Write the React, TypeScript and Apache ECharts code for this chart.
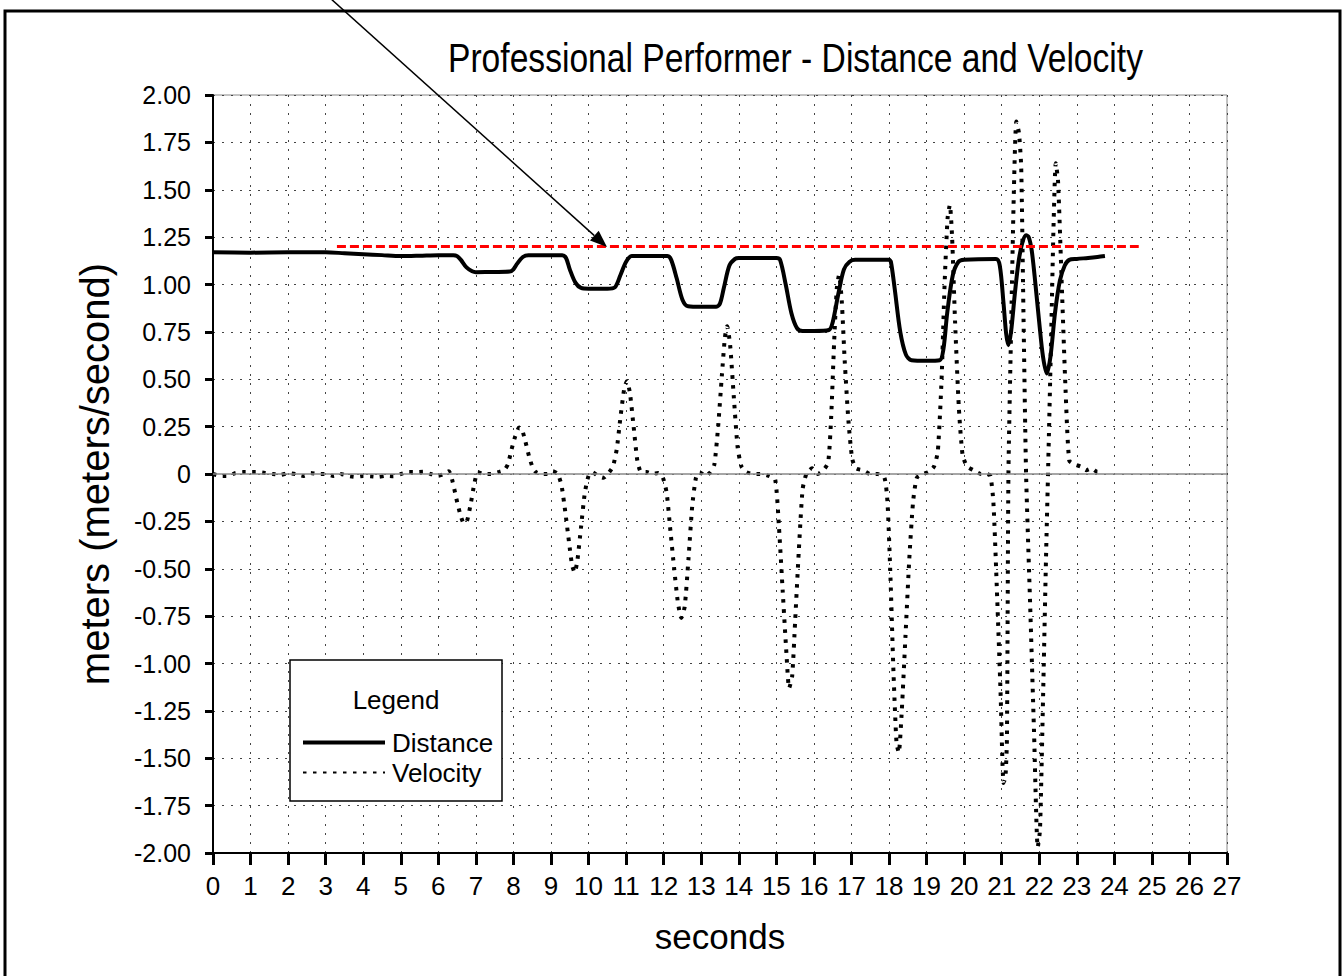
import { useEffect, useRef } from "react";
import * as echarts from "echarts";

const TITLE = "Professional Performer - Distance and Velocity";
const X_NAME = "seconds";
const Y_NAME = "meters (meters/second)";
const LEGEND_TITLE = "Legend";
const SERIES_NAMES = ["Distance", "Velocity"];

const X_MIN = 0;
const X_MAX = 27;
const X_STEP = 1;
const Y_MIN = -2;
const Y_MAX = 2;
const Y_STEP = 0.25;

const REF_LEVEL = 1.2;
const REF_START = 3.3;
const REF_END = 24.65;

const DIST_T = [
  0, 1, 2, 3, 3.5, 4, 4.5, 5, 5.5, 6, 6.4, 6.5, 6.6, 6.75, 6.9, 7.0, 7.5, 7.9,
  8.0, 8.1, 8.25, 8.4, 9.3, 9.4, 9.5, 9.65, 9.8, 10.0, 10.5, 10.7, 10.85, 11.0,
  11.15, 12.1, 12.2, 12.35, 12.5, 12.65, 13.0, 13.4, 13.5, 13.6, 13.75, 13.9,
  14.0, 15.0, 15.1, 15.25, 15.4, 15.55, 15.7, 16.0, 16.4, 16.5, 16.65, 16.8,
  16.95, 17.1, 18.0, 18.05, 18.15, 18.3, 18.45, 18.6, 19.0, 19.35, 19.45, 19.55,
  19.7, 19.85, 20.0, 20.85, 20.95, 21.05, 21.12, 21.18, 21.25, 21.35, 21.45,
  21.55, 21.65, 21.72, 21.8, 21.9, 22.0, 22.1, 22.2, 22.3, 22.42, 22.55, 22.68,
  22.8, 23.0, 23.3, 23.55, 23.75,
];
const DIST_V = [
  1.17, 1.168, 1.17, 1.17, 1.165, 1.16, 1.155, 1.15, 1.152, 1.155, 1.155, 1.15,
  1.13, 1.09, 1.07, 1.065, 1.066, 1.068, 1.08, 1.11, 1.145, 1.155, 1.155, 1.14,
  1.08, 1.01, 0.982, 0.978, 0.978, 0.985, 1.05, 1.12, 1.15, 1.15, 1.13, 1.03,
  0.92, 0.885, 0.882, 0.882, 0.9, 0.98, 1.1, 1.135, 1.14, 1.14, 1.13, 1.0, 0.85,
  0.77, 0.755, 0.755, 0.76, 0.8, 0.95, 1.08, 1.12, 1.13, 1.13, 1.12, 0.98, 0.75,
  0.63, 0.6, 0.597, 0.6, 0.66, 0.85, 1.05, 1.12, 1.13, 1.135, 1.1, 0.9, 0.74,
  0.68, 0.75, 0.95, 1.12, 1.22, 1.26, 1.25, 1.18, 1.0, 0.8, 0.62, 0.53, 0.62,
  0.85, 1.02, 1.1, 1.13, 1.135, 1.14, 1.145, 1.15,
];

const VEL_T = [
  0, 0.2, 0.4, 0.6, 0.8, 1.0, 1.2, 1.4, 1.6, 1.8, 2.0, 2.2, 2.4, 2.6, 2.8, 3.0,
  3.2, 3.4, 3.6, 3.8, 4.0, 4.2, 4.4, 4.6, 4.8, 5.0, 5.2, 5.4, 5.6, 5.8, 6.0,
  6.15, 6.28, 6.38, 6.48, 6.58, 6.68, 6.76, 6.86, 6.96, 7.05, 7.2, 7.4, 7.6,
  7.75, 7.85, 7.95, 8.05, 8.15, 8.22, 8.32, 8.42, 8.52, 8.6, 8.75, 8.9, 9.05,
  9.18, 9.28, 9.38, 9.48, 9.56, 9.63, 9.7, 9.8, 9.9, 10.0, 10.1, 10.25, 10.4,
  10.55, 10.65, 10.75, 10.85, 10.95, 11.02, 11.1, 11.2, 11.3, 11.4, 11.55,
  11.7, 11.85, 11.98, 12.08, 12.18, 12.28, 12.38, 12.47, 12.56, 12.66, 12.76,
  12.86, 12.96, 13.1, 13.25, 13.35, 13.45, 13.55, 13.63, 13.69, 13.77, 13.87,
  13.97, 14.07, 14.2, 14.4, 14.6, 14.8, 14.97, 15.07, 15.17, 15.27, 15.34,
  15.42, 15.5, 15.6, 15.7, 15.8, 15.95, 16.1, 16.25, 16.38, 16.46, 16.54,
  16.61, 16.67, 16.74, 16.82, 16.92, 17.02, 17.12, 17.3, 17.5, 17.7, 17.88,
  17.96, 18.04, 18.12, 18.2, 18.26, 18.34, 18.44, 18.54, 18.64, 18.74, 18.9,
  19.05, 19.2, 19.3, 19.4, 19.48, 19.56, 19.62, 19.68, 19.76, 19.86, 19.96,
  20.08, 20.25, 20.45, 20.6, 20.7, 20.78, 20.88, 20.97, 21.05, 21.1, 21.14,
  21.18, 21.25, 21.32, 21.39, 21.46, 21.52, 21.58, 21.65, 21.76, 21.86, 21.96,
  22.02, 22.1, 22.18, 22.24, 22.32, 22.38, 22.44, 22.5, 22.6, 22.7, 22.8, 22.95,
  23.1, 23.25, 23.4, 23.55, 23.7,
];
const VEL_V = [
  0, -0.01, -0.01, 0.005, 0.01, 0.01, 0.01, 0.005, 0, -0.005, 0.005, 0, -0.01,
  0.005, 0, 0, -0.01, 0, -0.01, -0.015, -0.01, -0.012, -0.015, -0.01, -0.012, 0,
  0.01, 0.01, 0.012, 0, -0.01, 0, 0.015, -0.04, -0.13, -0.21, -0.26, -0.25,
  -0.16, -0.05, 0.01, 0, 0, 0.01, 0.02, 0.05, 0.13, 0.2, 0.245, 0.24, 0.17, 0.09,
  0.03, 0.01, 0, 0, 0.015, 0, -0.06, -0.2, -0.36, -0.48, -0.52, -0.46, -0.28,
  -0.1, -0.01, 0.01, -0.01, -0.02, 0.01, 0.04, 0.13, 0.3, 0.45, 0.49, 0.43,
  0.25, 0.07, 0.01, 0.01, 0, 0.005, -0.02, -0.1, -0.3, -0.5, -0.68, -0.76, -0.7,
  -0.45, -0.17, -0.02, 0.01, -0.01, 0.01, 0.05, 0.25, 0.52, 0.72, 0.78, 0.68,
  0.4, 0.14, 0.04, 0.01, 0, 0, -0.01, -0.03, -0.28, -0.62, -0.95, -1.13, -1.07,
  -0.78, -0.4, -0.08, 0, 0.03, 0, 0.02, 0.06, 0.3, 0.7, 0.98, 1.05, 0.92, 0.6,
  0.28, 0.08, 0.03, 0.02, 0, 0, -0.02, -0.15, -0.55, -1.05, -1.42, -1.47, -1.25,
  -0.85, -0.45, -0.15, -0.02, 0, 0.01, 0.04, 0.12, 0.5, 1.0, 1.35, 1.42, 1.25,
  0.8, 0.35, 0.1, 0.04, 0.02, 0, 0, -0.01, -0.15, -0.65, -1.15, -1.63, -1.6,
  -1.4, 0, 0.75, 1.45, 1.86, 1.8, 1.62, 0.85, 0, -0.7, -1.35, -1.97, -1.88,
  -1.2, -0.45, 0.05, 0.75, 1.3, 1.64, 1.55, 1.0, 0.45, 0.07, 0.05, 0.04, 0.02,
  0.03, 0.01, 0.02,
];

const FONT = "'Liberation Sans', Arial, Helvetica, sans-serif";

export default function App() {
  const ref = useRef<HTMLDivElement>(null);

  useEffect(() => {
    if (!ref.current) return;
    const chart = echarts.init(ref.current, undefined, { renderer: "svg" });

    const distData = DIST_T.map((t, i) => [t, DIST_V[i]]);
    const velData = VEL_T.map((t, i) => [t, VEL_V[i]]);

    // arrow geometry (annotation, page pixels)
    const ax0 = 330, ay0 = -2, ax1 = 607, ay1 = 247;
    const len = Math.hypot(ax1 - ax0, ay1 - ay0);
    const ux = (ax1 - ax0) / len, uy = (ay1 - ay0) / len;
    const hl = 17, hw = 6.5;
    const bx = ax1 - ux * hl, by = ay1 - uy * hl;

    chart.setOption({
      animation: false,
      backgroundColor: "#ffffff",
      grid: {
        left: 213,
        right: 1344 - 1227,
        top: 95,
        bottom: 976 - 853,
        show: true,
        borderColor: "#888",
        borderWidth: 1,
        backgroundColor: "transparent",
      },
      legend: {
        data: [
          { name: SERIES_NAMES[0], lineStyle: { width: 4 } },
          { name: SERIES_NAMES[1] },
        ],
        orient: "vertical",
        left: 301,
        top: 728,
        padding: 0,
        itemWidth: 82,
        itemHeight: 14,
        itemGap: 1,
        itemStyle: { opacity: 0 },
        z: 10,
        textStyle: {
          fontFamily: FONT,
          fontSize: 26,
          lineHeight: 29,
          color: "#000",
          padding: [0, 0, 0, 2],
        },
      },
      xAxis: {
        type: "value",
        min: X_MIN,
        max: X_MAX,
        interval: X_STEP,
        name: X_NAME,
        nameLocation: "middle",
        nameGap: 66,
        nameTextStyle: { fontFamily: FONT, fontSize: 35, color: "#000" },
        axisLine: { show: true, onZero: false, lineStyle: { color: "#000", width: 2 } },
        axisTick: { show: true, length: 12, lineStyle: { color: "#000", width: 3 } },
        axisLabel: {
          margin: 20,
          fontFamily: FONT,
          fontSize: 26,
          color: "#000",
        },
        splitLine: {
          show: true,
          lineStyle: { color: "#444", width: 1, type: [2, 7] },
        },
      },
      yAxis: {
        type: "value",
        min: Y_MIN,
        max: Y_MAX,
        interval: Y_STEP,
        name: Y_NAME,
        nameLocation: "middle",
        nameGap: 98,
        nameTextStyle: { fontFamily: FONT, fontSize: 40, color: "#000" },
        axisLine: { show: true, onZero: false, lineStyle: { color: "#000", width: 2 } },
        axisTick: { show: true, length: 8, lineStyle: { color: "#000", width: 3 } },
        axisLabel: {
          margin: 22,
          fontFamily: FONT,
          fontSize: 25,
          color: "#000",
          formatter: (v: number) => (v === 0 ? "0" : v.toFixed(2)),
        },
        splitLine: {
          show: true,
          lineStyle: { color: "#444", width: 1, type: [2, 7] },
        },
      },
      series: [
        {
          name: SERIES_NAMES[0],
          type: "line",
          data: distData,
          symbol: "none",
          smooth: 0.3,
          z: 4,
          lineStyle: { color: "#000", width: 4 },
          itemStyle: { color: "#000" },
          markLine: {
            silent: true,
            symbol: "none",
            label: { show: false },
            lineStyle: { color: "#ff0000", width: 3, type: [9, 4] },
            data: [[{ coord: [REF_START, REF_LEVEL] }, { coord: [REF_END, REF_LEVEL] }]],
          },
        },
        {
          name: SERIES_NAMES[1],
          type: "line",
          data: velData,
          symbol: "none",
          smooth: 0.2,
          z: 3,
          lineStyle: { color: "#000", width: 4, type: [3.5, 6.5] },
          itemStyle: { color: "#000" },
          markLine: {
            silent: true,
            symbol: "none",
            label: { show: false },
            lineStyle: { color: "#888", width: 1.5, type: "solid" },
            data: [{ yAxis: 0 }],
          },
        },
      ],
      graphic: [
        {
          type: "text",
          x: 448,
          y: 58,
          scaleX: 0.82,
          z: 10,
          style: {
            text: TITLE,
            fontFamily: FONT,
            fontSize: 41,
            fill: "#000",
            align: "left",
            verticalAlign: "middle",
          },
        },
        {
          type: "rect",
          shape: { x: 5, y: 11, width: 1335, height: 990 },
          style: { fill: "none", stroke: "#000", lineWidth: 3 },
          z: 1,
          silent: true,
        },
        {
          type: "rect",
          shape: { x: 290, y: 660, width: 212, height: 141 },
          style: { fill: "#fff", stroke: "#000", lineWidth: 1.5 },
          z: 8,
          silent: true,
        },
        {
          type: "text",
          x: 396,
          y: 700,
          z: 9,
          style: {
            text: LEGEND_TITLE,
            fontFamily: FONT,
            fontSize: 26,
            fill: "#000",
            align: "center",
            verticalAlign: "middle",
          },
        },
        {
          type: "line",
          shape: { x1: ax0, y1: ay0, x2: bx, y2: by },
          style: { stroke: "#000", lineWidth: 1.5 },
          z: 20,
          silent: true,
        },
        {
          type: "polygon",
          shape: {
            points: [
              [ax1, ay1],
              [bx - uy * hw, by + ux * hw],
              [bx + uy * hw, by - ux * hw],
            ],
          },
          style: { fill: "#000" },
          z: 20,
          silent: true,
        },
      ],
    });

    return () => chart.dispose();
  }, []);

  return (
    <div
      ref={ref}
      style={{ position: "fixed", left: 0, top: 0, width: 1344, height: 976 }}
    />
  );
}
